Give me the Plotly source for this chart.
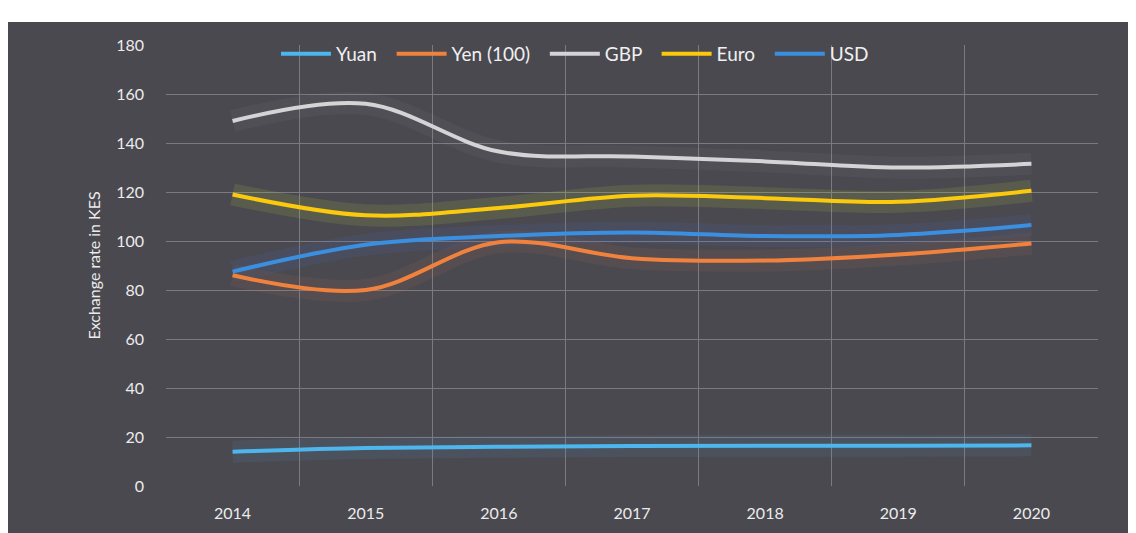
import plotly.graph_objects as go

years = ["2014", "2015", "2016", "2017", "2018", "2019", "2020"]
yuan = [14, 15.5, 16, 16.3, 16.4, 16.4, 16.6]
yen100 = [86, 80, 99.5, 93, 92, 94.5, 99]
gbp = [149, 156, 136.5, 134.5, 132.5, 130, 131.5]
euro = [119, 110.5, 113.5, 118.5, 117.5, 116, 120.5]
usd = [87.5, 98.5, 102, 103.5, 102, 102.5, 106.5]

series = [
    ("Yuan", yuan, "#4db6ec", "rgba(90,160,220,0.10)"),
    ("Yen (100)", yen100, "#f0823e", "rgba(200,120,80,0.09)"),
    ("GBP", gbp, "#d4d4d6", "rgba(200,200,200,0.05)"),
    ("Euro", euro, "#fcca0c", "rgba(170,190,60,0.16)"),
    ("USD", usd, "#3b8fe0", "rgba(70,110,200,0.11)"),
]

xs = list(range(len(years)))
fig = go.Figure()

# soft glow underneath
for name, vals, col, glow in series:
    fig.add_trace(go.Scatter(x=xs, y=vals, mode="lines", showlegend=False,
                             hoverinfo="skip",
                             line=dict(color=glow, width=22, shape="spline", smoothing=1.0)))

for name, vals, col, glow in series:
    fig.add_trace(go.Scatter(x=xs, y=vals, mode="lines", name=name + "\u00a0\u00a0",
                             line=dict(color=col, width=4, shape="spline", smoothing=1.0)))

bg = "#4a4950"
grid = "#7a7a80"
font = "Lato, 'Open Sans', sans-serif"

fig.update_layout(
    width=1136, height=533,
    paper_bgcolor=bg, plot_bgcolor=bg,
    margin=dict(l=158, r=46, t=37, b=55, autoexpand=False),
    font=dict(family=font, color="#ececec", size=15),
    showlegend=True,
    legend=dict(orientation="h", x=0.118, y=0.98, xanchor="left", yanchor="middle",
                bgcolor="rgba(0,0,0,0)", font=dict(size=19, color="#f0f0f0"),
                itemwidth=50, tracegroupgap=0),
    xaxis=dict(range=[-0.5, 6.5], tickvals=xs, ticktext=years, showgrid=False,
               zeroline=False, showline=False, ticks="", ticklabelstandoff=16,
               tickfont=dict(size=16),
               minor=dict(tickvals=[i - 0.5 for i in range(len(years) + 1)],
                          showgrid=True, gridcolor=grid, gridwidth=1, ticks="")),
    yaxis=dict(range=[0, 180], dtick=20, showgrid=True, gridcolor=grid, gridwidth=1,
               zeroline=False, showline=False, ticks="", ticklabelstandoff=21,
               tickfont=dict(size=16),
               title=dict(text="Exchange rate in KES", font=dict(size=16), standoff=11)),
    shapes=[
        dict(type="rect", xref="paper", yref="paper", x0=-0.3, x1=1.2,
             y0=1.0 + 23 / 441, y1=1.3, fillcolor="white", line=dict(width=0), layer="above"),
    ],
)

fig.write_html("out.html")
